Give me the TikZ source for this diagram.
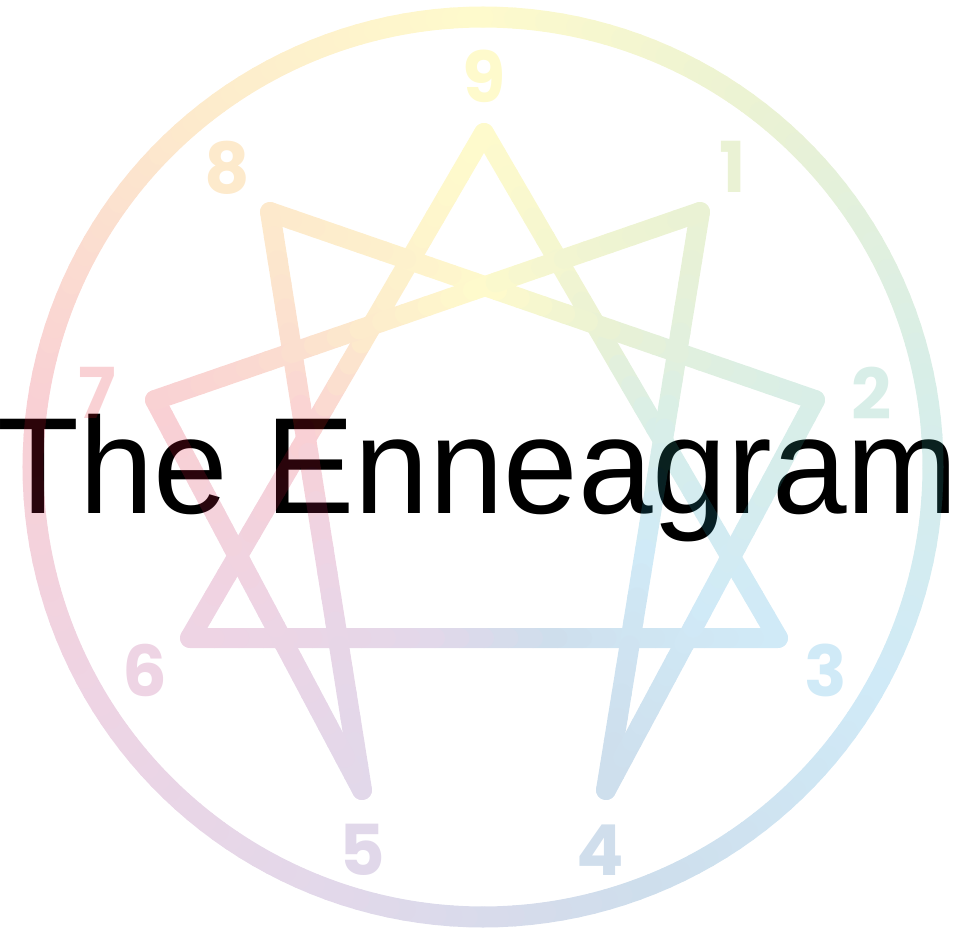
\documentclass[tikz,border=0pt]{standalone}
\usepackage{fontspec}
\setmainfont{Liberation Sans}
\newfontfamily\digitfont{Poppins}

% one hue per point of the figure, 9 first, then clockwise
\definecolor{hue0}{RGB}{250,230,0}
\definecolor{hue1}{RGB}{150,190,40}
\definecolor{hue2}{RGB}{60,170,140}
\definecolor{hue3}{RGB}{20,150,215}
\definecolor{hue4}{RGB}{10,90,160}
\definecolor{hue5}{RGB}{110,60,150}
\definecolor{hue6}{RGB}{170,40,120}
\definecolor{hue7}{RGB}{225,20,40}
\definecolor{hue8}{RGB}{245,150,0}
\colorlet{hue9}{hue0}

% segcol = hue at a clockwise angle from the top
\newcommand{\hueat}[1]{%
  \pgfmathsetmacro{\hang}{mod(#1+720,360)}%
  \pgfmathsetmacro{\hidx}{int(floor(\hang/40))}%
  \pgfmathsetmacro{\hnxt}{int(\hidx+1)}%
  \pgfmathsetmacro{\hpct}{100-2.5*(\hang-40*\hidx)}%
  \colorlet{segcol}{hue\hidx!\hpct!hue\hnxt}}
% segcol for a point (x,y), seen from the centre
\newcommand{\huefor}[2]{%
  \pgfmathsetmacro{\hpt}{atan2((#1)-483,467-(#2))}%
  \hueat{\hpt}}

\begin{document}
\begin{tikzpicture}[x=0.02cm, y=-0.02cm,
    ring/.style={line width=0.42cm, line cap=round},
    starline/.style={line width=0.40cm, line cap=round},
    digit/.style={font=\digitfont\bfseries\fontsize{40}{40}\selectfont, inner sep=0pt}]
  \useasboundingbox (0,0) rectangle (960,929);

  \node[anchor=base west, inner sep=0pt, font=\fontsize{78}{80}\selectfont]
    (title) at (-3,513) {\scalebox{0.978}[1]{The Enneagram}};

  \begin{scope}[transparency group, opacity=0.2]
    % ring
    \begin{scope}[shift={(483,467)}]
      \foreach \a in {0,2,...,358} {
        \hueat{\a+1}
        \draw[ring, segcol] (\a-90:450) -- (\a-88:450);
      }
    \end{scope}
    % star: triangle 9-3-6 and 1-4-2-8-5-7
    \foreach \xa/\ya/\xb/\yb in {484/133/778/638, 778/638/190/638, 190/638/484/133,
        700/212/606/790, 606/790/815/400, 815/400/270/212,
        270/212/362/790, 362/790/155/400, 155/400/700/212} {
      \foreach \i in {0,...,23} {
        \pgfmathsetmacro{\xs}{\xa+(\xb-\xa)*\i/24}
        \pgfmathsetmacro{\ys}{\ya+(\yb-\ya)*\i/24}
        \pgfmathsetmacro{\xe}{\xa+(\xb-\xa)*(\i+1)/24}
        \pgfmathsetmacro{\ye}{\ya+(\yb-\ya)*(\i+1)/24}
        \huefor{(\xs+\xe)/2}{(\ys+\ye)/2}
        \draw[starline, segcol] (\xs,\ys) -- (\xe,\ye);
      }
    }
    % numbers
    \foreach \n/\lx/\ly in {9/484/76, 1/733/167, 2/872/393, 3/826/670, 4/600/850,
        5/362/850, 6/145/670, 7/97/393, 8/227/168} {
      \huefor{\lx}{\ly}
      \node[digit, text=segcol] (n\n) at (\lx,\ly) {\n};
    }
  \end{scope}
\end{tikzpicture}
\end{document}
